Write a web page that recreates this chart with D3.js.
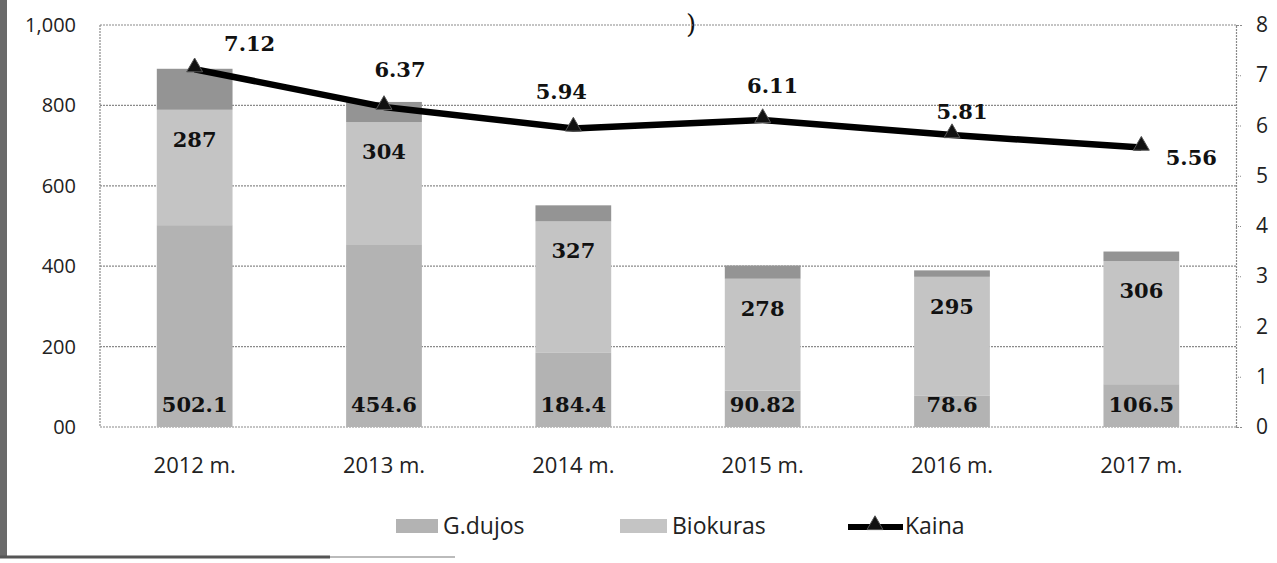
<!DOCTYPE html>
<html>
<head>
<meta charset="utf-8">
<script src="https://cdn.jsdelivr.net/npm/d3@7"></script>
<style>
  body { margin: 0; background: #fff; }
  svg { display: block; }
</style>
</head>
<body>
<div id="viz"></div>
<script>
// data
var years = ["2012 m.", "2013 m.", "2014 m.", "2015 m.", "2016 m.", "2017 m."];
var gdujos = [502.1, 454.6, 184.4, 90.82, 78.6, 106.5];
var biokuras = [287, 304, 327, 278, 295, 306];
var kita = [102, 50, 40, 33, 16, 24];   // dark unlabeled top part
var kaina = [7.12, 6.37, 5.94, 6.11, 5.81, 5.56];
var leftTicks = [0, 200, 400, 600, 800, 1000];
var rightTicks = [0, 1, 2, 3, 4, 5, 6, 7, 8];

var width = 1277, height = 563;
var plot_left = 100, plot_right = 1236, plot_top = 25, plot_bottom = 427;
var grid_colour = "#8a8a8a";
var serif = "'DejaVu Serif', serif";
var sans = "'Open Sans', sans-serif";

var svg = d3.select("#viz")
  .append("svg")
  .attr("width", width)
  .attr("height", height);

var x = d3.scaleBand()
  .domain(years)
  .range([plot_left, plot_right])
  .paddingInner(0.6)
  .paddingOuter(0.3);

var yL = d3.scaleLinear().domain([0, 1000]).range([plot_bottom, plot_top]);
var yR = d3.scaleLinear().domain([0, 8]).range([plot_bottom, plot_top]);

// scan frame on the left and bottom
svg.append("rect")
  .attr("x", 0).attr("y", 0)
  .attr("width", 7).attr("height", 558)
  .attr("fill", "#6a6a6a");
svg.append("line")
  .attr("x1", 0).attr("x2", 330)
  .attr("y1", 557).attr("y2", 557)
  .attr("stroke", "#555").attr("stroke-width", 3);
svg.append("line")
  .attr("x1", 330).attr("x2", 455)
  .attr("y1", 557).attr("y2", 557)
  .attr("stroke", "#bbb").attr("stroke-width", 2);

// leftover of the cut title
svg.append("text")
  .attr("x", 686).attr("y", 33)
  .attr("font-family", serif)
  .attr("font-size", 26)
  .attr("fill", "#111")
  .text(")");

// gridlines
svg.append("g")
  .selectAll("line")
  .data(leftTicks)
  .enter().append("line")
  .attr("x1", plot_left).attr("x2", plot_right)
  .attr("y1", function(d) { return yL(d); })
  .attr("y2", function(d) { return yL(d); })
  .attr("stroke", grid_colour)
  .attr("stroke-width", 1.2)
  .attr("stroke-dasharray", "2,1");

svg.append("line")
  .attr("x1", plot_left).attr("x2", plot_left)
  .attr("y1", plot_top).attr("y2", plot_bottom)
  .attr("stroke", grid_colour).attr("stroke-width", 1.2)
  .attr("stroke-dasharray", "2,1");

// left axis
var leftAxis = d3.axisLeft(yL)
  .tickValues(leftTicks)
  .tickSize(0)
  .tickPadding(24)
  .tickFormat(function(d) { return d === 0 ? "00" : d3.format(",")(d); });

var gl = svg.append("g")
  .attr("transform", "translate(" + plot_left + ",0)")
  .call(leftAxis);
gl.select(".domain").remove();
gl.selectAll("text")
  .attr("font-family", sans)
  .attr("font-size", 20)
  .attr("fill", "#222");

// right axis
var rightAxis = d3.axisRight(yR)
  .tickValues(rightTicks)
  .tickSize(6)
  .tickPadding(14);

var gr = svg.append("g")
  .attr("transform", "translate(" + plot_right + ",0)")
  .call(rightAxis);
gr.select(".domain")
  .attr("stroke", grid_colour)
  .attr("stroke-width", 1.2)
  .attr("stroke-dasharray", "2,1");
gr.selectAll(".tick line")
  .attr("stroke", grid_colour)
  .attr("stroke-dasharray", "1,1");
gr.selectAll("text")
  .attr("font-family", sans)
  .attr("font-size", 21)
  .attr("fill", "#222");

// x labels
svg.append("g")
  .selectAll("text")
  .data(years)
  .enter().append("text")
  .attr("x", function(d) { return x(d) + x.bandwidth() / 2; })
  .attr("y", 473)
  .attr("text-anchor", "middle")
  .attr("font-family", sans)
  .attr("font-size", 22)
  .attr("fill", "#222")
  .text(function(d) { return d; });

// stacked bars
var rows = years.map(function(d, i) {
  return { year: d, gdujos: gdujos[i], biokuras: biokuras[i], kita: kita[i] };
});
var keys = ["gdujos", "biokuras", "kita"];
var colours = { gdujos: "#b3b3b3", biokuras: "#c4c4c4", kita: "#949494" };
var stacked = d3.stack().keys(keys)(rows);

svg.append("g")
  .selectAll("g")
  .data(stacked)
  .enter().append("g")
  .attr("fill", function(s) { return colours[s.key]; })
  .selectAll("rect")
  .data(function(s) { return s; })
  .enter().append("rect")
  .attr("x", function(d) { return x(d.data.year); })
  .attr("width", x.bandwidth())
  .attr("y", function(d) { return yL(d[1]); })
  .attr("height", function(d) { return yL(d[0]) - yL(d[1]); });

// bar labels
var barLabels = svg.append("g")
  .attr("font-family", serif)
  .attr("font-weight", "bold")
  .attr("font-size", 21)
  .attr("fill", "#111")
  .attr("text-anchor", "middle");

barLabels.selectAll(".lab-g")
  .data(stacked[0])
  .enter().append("text")
  .attr("class", "lab-g")
  .attr("x", function(d) { return x(d.data.year) + x.bandwidth() / 2; })
  .attr("y", function(d) { return yL(d[0]) - 15; })
  .text(function(d) { return d.data.gdujos; });

barLabels.selectAll(".lab-b")
  .data(stacked[1])
  .enter().append("text")
  .attr("class", "lab-b")
  .attr("x", function(d) { return x(d.data.year) + x.bandwidth() / 2; })
  .attr("y", function(d) { return yL(d[1]) + 37; })
  .text(function(d) { return d.data.biokuras; });

// price line
var line = d3.line()
  .x(function(d, i) { return x(years[i]) + x.bandwidth() / 2; })
  .y(function(d) { return yR(d); });

svg.append("path")
  .attr("d", line(kaina))
  .attr("fill", "none")
  .attr("stroke", "#000")
  .attr("stroke-width", 6.5)
  .attr("stroke-linejoin", "round");

svg.append("g")
  .selectAll("path")
  .data(kaina)
  .enter().append("path")
  .attr("d", d3.symbol().type(d3.symbolTriangle).size(110))
  .attr("transform", function(d, i) {
    return "translate(" + (x(years[i]) + x.bandwidth() / 2) + "," + (yR(d) - 2) + ")";
  })
  .attr("fill", "#111")
  .attr("stroke", "#555")
  .attr("stroke-width", 1);

// label offsets for the price values
var labelDx = [55, 16, -12, 10, 10, 50];
var labelDy = [-18, -30, -30, -27, -16, 17];

svg.append("g")
  .selectAll("text")
  .data(kaina)
  .enter().append("text")
  .attr("x", function(d, i) { return x(years[i]) + x.bandwidth() / 2 + labelDx[i]; })
  .attr("y", function(d, i) { return yR(d) + labelDy[i]; })
  .attr("text-anchor", "middle")
  .attr("font-family", serif)
  .attr("font-weight", "bold")
  .attr("font-size", 21)
  .attr("fill", "#111")
  .text(function(d) { return d3.format(".2f")(d); });

// legend
var legend = svg.append("g")
  .attr("font-family", sans)
  .attr("font-size", 23)
  .attr("fill", "#222");

legend.append("rect")
  .attr("x", 396).attr("y", 519).attr("width", 42).attr("height", 14)
  .attr("fill", colours.gdujos);
legend.append("text").attr("x", 443).attr("y", 534).text("G.dujos");

legend.append("rect")
  .attr("x", 620).attr("y", 519).attr("width", 47).attr("height", 14)
  .attr("fill", colours.biokuras);
legend.append("text").attr("x", 672).attr("y", 534).text("Biokuras");

legend.append("line")
  .attr("x1", 848).attr("x2", 903)
  .attr("y1", 527).attr("y2", 527)
  .attr("stroke", "#000").attr("stroke-width", 6);
legend.append("path")
  .attr("d", d3.symbol().type(d3.symbolTriangle).size(110))
  .attr("transform", "translate(875,525)")
  .attr("fill", "#111")
  .attr("stroke", "#555");
legend.append("text").attr("x", 905).attr("y", 534).text("Kaina");
</script>
</body>
</html>
